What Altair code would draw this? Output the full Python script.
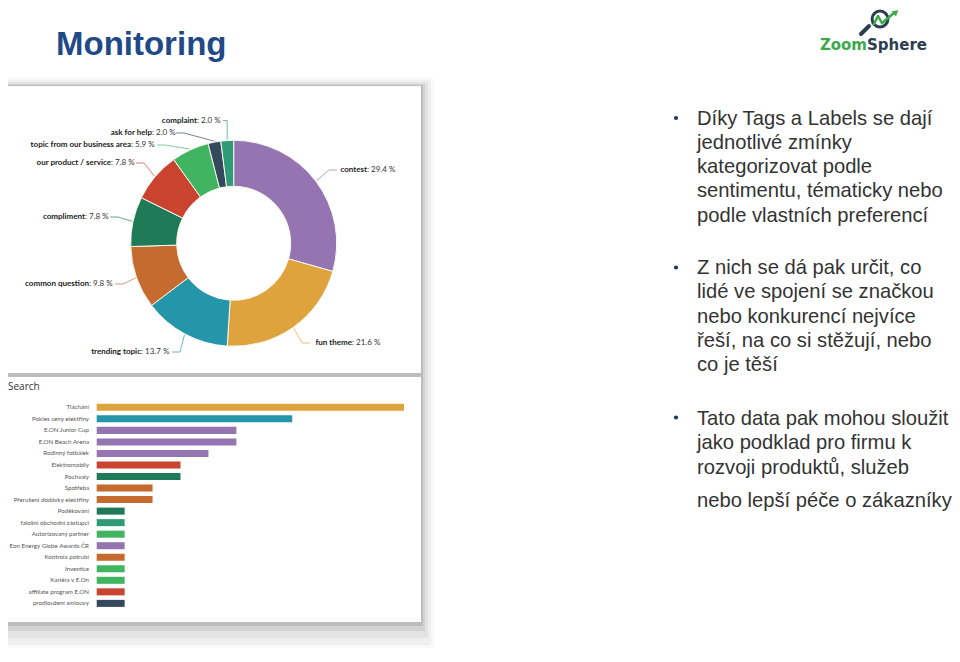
import altair as alt
import pandas as pd

OFF = 8  # page margin: page coords -> chart coords

# ---------------- data ----------------
tags = ["contest", "fun theme", "trending topic", "common question", "compliment",
        "our product / service", "topic from our business area", "ask for help", "complaint"]
tag_pct = [29.4, 21.6, 13.7, 9.8, 7.8, 7.8, 5.9, 2.0, 2.0]
tag_colors = ["#9474b1", "#dea33c", "#2595a9", "#c66b30", "#1f7b57",
              "#c9432f", "#41b462", "#34495e", "#2e9a76"]

bar_names = ["Tláchání", "Pokles ceny elektřiny", "E.ON Junior Cup", "E.ON Beach Arena",
             "Rodinný fotbálek", "Elektromobily", "Pochvaly", "Spotřeba",
             "Přerušení dodávky elektřiny", "Poděkování", "falošní obchodní zástupci",
             "Autorizovaný partner", "Eon Energy Globe Awards ČR", "Kontrola potrubí",
             "Investice", "Kariéra v E.On", "affiliate program E.ON", "prodloužení smlouvy"]
bar_counts = [11, 7, 5, 5, 4, 3, 3, 2, 2, 1, 1, 1, 1, 1, 1, 1, 1, 1]
bar_tags = ["fun theme", "trending topic", "contest", "contest", "contest",
            "our product / service", "compliment", "common question", "common question",
            "compliment", "complaint", "topic from our business area", "contest",
            "common question", "topic from our business area", "topic from our business area",
            "our product / service", "ask for help"]

bullet1 = ["Díky Tags a Labels se dají", "jednotlivé zmínky", "kategorizovat podle",
           "sentimentu, tématicky nebo", "podle vlastních preferencí"]
bullet2 = ["Z nich se dá pak určit, co", "lidé ve spojení se značkou",
           "nebo konkurencí nejvíce", "řeší, na co si stěžují, nebo", "co je těší"]
bullet3 = ["Tato data pak mohou sloužit", "jako podklad pro firmu k", "rozvoji produktů, služeb"]
bullet3_last = "nebo lepší péče o zákazníky"

# ---------------- layout (page px) ----------------
CX, CY, R_OUT, R_IN = 233.7 - OFF, 243.3 - OFF, 103, 57
label_bx = [367, 352, 141, 89, 85, 111, 131, 152, 197]      # name/value boundary
label_y = [170, 343, 352, 284, 217, 163, 145, 133, 120.5]
label_lx = [337, 310, 172, 115, 110, 136, 157, 176, 223]     # connector end
label_side = [-1, -1, 1, 1, 1, 1, 1, 1, 1]

BX0, BX1 = 96.7 - OFF, 404 - OFF
BY0, BY1 = 403.8 - OFF, 606.9 - OFF
BLX = 89 - OFF

donut_df = pd.DataFrame({"tag": tags, "pct": tag_pct, "idx": list(range(len(tags)))})
label_df = donut_df.assign(
    bx=[v - OFF for v in label_bx], ly=[v - OFF for v in label_y],
    lx=[v - OFF for v in label_lx], side=label_side)
bar_df = pd.DataFrame({"name": bar_names, "count": bar_counts, "tag": bar_tags})
one = pd.DataFrame({"k": [0]})

color_scale = alt.Scale(domain=tags, range=tag_colors)


def rect(x1, y1, x2, y2, color, opacity=1.0):
    return alt.Chart(one).mark_rect(color=color, opacity=opacity).encode(
        x=alt.value(x1 - OFF), x2=alt.value(x2 - OFF),
        y=alt.value(y1 - OFF), y2=alt.value(y2 - OFF))


def seg(x1, y1, x2, y2, color, width):
    return alt.Chart(one).mark_rule(color=color, strokeWidth=width, strokeCap="round").encode(
        x=alt.value(x1 - OFF), x2=alt.value(x2 - OFF),
        y=alt.value(y1 - OFF), y2=alt.value(y2 - OFF))


def txt(x, y, text, **kw):
    return alt.Chart(one).mark_text(**kw).encode(
        x=alt.value(x - OFF), y=alt.value(y - OFF), text=alt.value(text))


layers = []

# card shadows + cards
layers += [
    rect(-10, 78, 434, 652, "#000000", 0.025),
    rect(-10, 80, 431, 645, "#000000", 0.035),
    rect(-10, 82, 428, 638, "#000000", 0.05),
    rect(-10, 84, 425, 631, "#000000", 0.07),
    rect(-10, 85, 423, 626, "#000000", 0.10),
    rect(-10, 86, 421, 373, "#ffffff"),
    rect(-10, 377, 421, 622, "#ffffff"),
]

# donut
arc = alt.Chart(donut_df).mark_arc(innerRadius=R_IN, outerRadius=R_OUT,
                                   stroke="#fbf8ee", strokeWidth=1).encode(
    theta=alt.Theta("pct:Q", stack=True),
    color=alt.Color("tag:N", scale=color_scale, legend=None),
    order=alt.Order("idx:Q"),
    x=alt.value(CX), y=alt.value(CY))
layers.append(arc)

# leader lines
lead = (alt.Chart(label_df)
        .transform_window(cum="sum(pct)", sort=[alt.SortField("idx", order="ascending")])
        .transform_calculate(ang="(datum.cum - datum.pct / 2) / 100 * 2 * PI")
        .transform_calculate(ax=f"{CX} + {R_OUT + 1} * sin(datum.ang)")
        .transform_calculate(ay=f"{CY} - {R_OUT + 1} * cos(datum.ang)")
        .transform_calculate(ex="datum.lx + datum.side * min(8, abs(datum.ax - datum.lx))")
        .transform_calculate(p0="0")
        .transform_calculate(p1="1")
        .transform_calculate(p2="2")
        .transform_fold(["p0", "p1", "p2"], as_=["pk", "pv"])
        .transform_calculate(px="datum.pk == 'p0' ? datum.lx : (datum.pk == 'p1' ? datum.ex : datum.ax)")
        .transform_calculate(py="datum.pk == 'p2' ? datum.ay : datum.ly")
        .mark_line(strokeWidth=0.8, opacity=0.85)
        .encode(x=alt.X("px:Q", scale=None, axis=None),
                y=alt.Y("py:Q", scale=None, axis=None),
                color=alt.Color("tag:N", scale=color_scale, legend=None),
                detail="tag:N",
                order=alt.Order("pk:N")))
layers.append(lead)

name_txt = alt.Chart(label_df).mark_text(
    align="right", baseline="middle", font="Lato", fontSize=8, fontWeight="bold",
    color="#222").encode(
    x=alt.X("bx:Q", scale=None, axis=None), y=alt.Y("ly:Q", scale=None, axis=None),
    text="tag:N")
val_txt = alt.Chart(label_df).transform_calculate(
    vt="': ' + format(datum.pct, '.1f') + ' %'").mark_text(
    align="left", baseline="middle", font="Lato", fontSize=8, color="#333").encode(
    x=alt.X("bx:Q", scale=None, axis=None), y=alt.Y("ly:Q", scale=None, axis=None),
    text="vt:N")
layers += [name_txt, val_txt]

# bar chart
ybar = alt.Y("name:N", sort=bar_names, axis=None,
             scale=alt.Scale(range=[BY0, BY1], paddingInner=0.39, paddingOuter=0))
bars = alt.Chart(bar_df).mark_bar().encode(
    x=alt.X("count:Q", axis=None,
            scale=alt.Scale(domain=[0, 11], range=[BX0, BX1], nice=False, zero=True)),
    y=ybar,
    color=alt.Color("tag:N", scale=color_scale, legend=None))
bar_lbl = alt.Chart(bar_df).mark_text(
    align="right", baseline="middle", font="Lato", fontSize=6.2, color="#555").encode(
    x=alt.value(BLX), y=ybar, text="name:N")
layers += [bars, bar_lbl]

layers.append(txt(8, 387, "Search", align="left", baseline="middle",
                  font="Open Sans", fontSize=10, color="#333"))

# title
layers.append(txt(56, 55, "Monitoring", align="left", baseline="alphabetic",
                  font="Liberation Sans", fontSize=33, fontWeight="bold", color="#1f4a87"))

# logo
GREEN, SLATE = "#3aaa4a", "#2d3e50"
layers.append(alt.Chart(one).mark_point(shape="circle", filled=False, size=250,
                                        strokeWidth=3, color=SLATE, opacity=1).encode(
    x=alt.value(880 - OFF), y=alt.value(19 - OFF)))
layers.append(seg(869, 26, 861, 34, SLATE, 4))
layers.append(seg(874, 24, 878, 16, GREEN, 2.5))
layers.append(seg(878, 16, 882, 23, GREEN, 2.5))
layers.append(seg(882, 23, 894, 13, GREEN, 2.5))
layers.append(alt.Chart(one).mark_point(shape="triangle-up", filled=True, size=45,
                                        angle=50, color=GREEN, opacity=1).encode(
    x=alt.value(896 - OFF), y=alt.value(12 - OFF)))
layers.append(txt(867, 45, "Zoom", align="right", baseline="middle",
                  font="DejaVu Sans", fontSize=15, fontWeight="bold", color=GREEN))
layers.append(txt(867, 45, "Sphere", align="left", baseline="middle",
                  font="DejaVu Sans", fontSize=15, fontWeight="bold", color=SLATE))

# bullets
BODY = dict(align="left", baseline="alphabetic", font="Liberation Sans",
            fontSize=20.2, color="#333333", lineHeight=24.3)
for y in (118, 267.5, 417.5):
    layers.append(alt.Chart(one).mark_point(shape="circle", filled=True, size=18,
                                            color="#1f3864", opacity=1).encode(
        x=alt.value(676 - OFF), y=alt.value(y - OFF)))
layers.append(txt(697, 124.5, bullet1, **BODY))
layers.append(txt(697, 274, bullet2, **BODY))
layers.append(txt(697, 425, bullet3, **BODY))
layers.append(txt(697, 506.5, bullet3_last, **BODY))

chart = (alt.layer(*layers)
         .properties(width=944, height=640, padding=0, background="white",
                     autosize=alt.AutoSizeParams(type="none"))
         .configure_view(strokeWidth=0, stroke="transparent"))

chart.save("out.html", embed_options={"renderer": "svg", "actions": False})
